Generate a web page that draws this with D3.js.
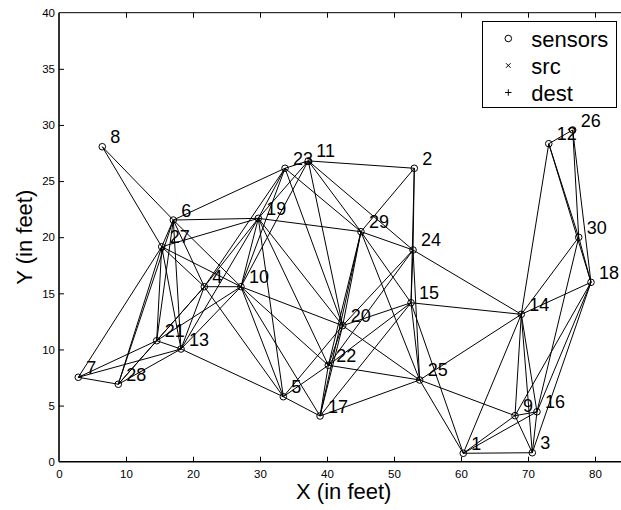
<!DOCTYPE html>
<html><head><meta charset="utf-8">
<script src="https://cdn.jsdelivr.net/npm/d3@7"></script>
<style>
body{margin:0;background:#fff}
text{font-family:"Liberation Sans",Arial,Helvetica,sans-serif;fill:#000}
</style></head>
<body><svg id="c" width="621" height="510"></svg>
<script>
// Sensor nodes: id and position in feet
const ids=[1,2,3,4,5,6,7,8,9,10,11,12,13,14,15,16,17,18,19,20,21,22,23,24,25,26,27,28,29,30];
const xs=[60.34,53.03,70.64,21.69,33.48,17.06,2.88,6.46,68.06,27.16,37.2,73.1,18.21,69.0,52.54,71.34,38.96,79.4,29.75,42.34,14.58,40.2,33.73,52.84,53.83,76.67,15.33,8.85,45.07,77.57];
const ys=[0.75,26.14,0.80,15.59,5.79,21.53,7.52,28.06,4.10,15.59,26.8,28.33,10.04,13.13,14.16,4.45,4.07,15.98,21.68,12.12,10.78,8.59,26.14,18.86,7.28,29.55,19.15,6.9,20.49,19.99];

// Radio links between sensors (pairs of ids)
const links=[
[1,3],[1,9],[1,14],[1,15],[1,16],[1,25],[2,11],[2,15],[2,24],[2,29],
[3,9],[3,14],[3,16],[3,18],[4,5],[4,6],[4,10],[4,13],[4,19],[4,21],
[4,23],[4,27],[4,28],[5,10],[5,13],[5,17],[5,19],[5,20],[5,22],[6,8],
[6,10],[6,13],[6,19],[6,21],[6,23],[6,27],[6,28],[7,13],[7,21],[7,27],
[7,28],[8,27],[9,14],[9,16],[9,18],[9,25],[10,11],[10,13],[10,17],[10,19],
[10,20],[10,21],[10,22],[10,23],[10,27],[11,19],[11,20],[11,23],[11,24],[11,29],
[12,14],[12,18],[12,26],[12,30],[13,19],[13,21],[13,27],[13,28],[14,15],[14,16],
[14,18],[14,24],[14,25],[14,30],[15,17],[15,20],[15,22],[15,24],[15,25],[15,29],
[16,18],[16,30],[17,20],[17,22],[17,25],[17,29],[18,26],[18,30],[19,20],[19,22],
[19,23],[19,27],[19,29],[20,22],[20,23],[20,24],[20,25],[20,29],[21,27],[21,28],
[22,24],[22,25],[22,29],[23,29],[24,25],[24,29],[25,29],[26,30],[27,28]];

// Axis ticks and legend entries
const xTicks=[0,10,20,30,40,50,60,70,80];
const yTicks=[0,5,10,15,20,25,30,35,40];
const legendNames=["sensors","src","dest"];

const svg=d3.select("#c");
const L=59,T=12.7,B=461.7,R=628.5;
const x=d3.scaleLinear().domain([0,85]).range([L,R]);
const y=d3.scaleLinear().domain([0,40]).range([B,T]);

const byId=new Map(ids.map((id,i)=>[id,{x:xs[i],y:ys[i]}]));

// links
svg.append("g").selectAll("line").data(links).join("line")
  .attr("x1",d=>x(byId.get(d[0]).x)).attr("y1",d=>y(byId.get(d[0]).y))
  .attr("x2",d=>x(byId.get(d[1]).x)).attr("y2",d=>y(byId.get(d[1]).y))
  .attr("stroke","#000").attr("stroke-width",1);

// sensor markers
svg.append("g").selectAll("circle").data(ids).join("circle")
  .attr("cx",(d,i)=>x(xs[i])).attr("cy",(d,i)=>y(ys[i])).attr("r",3.3)
  .attr("fill","none").attr("stroke","#000").attr("stroke-width",1);

// sensor labels
svg.append("g").selectAll("text").data(ids).join("text")
  .attr("x",(d,i)=>x(xs[i])+8).attr("y",(d,i)=>y(ys[i])-3.5)
  .attr("font-size",18).text(d=>d);

// axes
const fmt=d3.format("d");
const gx=svg.append("g").attr("transform",`translate(0,${B})`)
  .call(d3.axisBottom(x).tickValues(xTicks).tickFormat(fmt).tickSizeInner(-5).tickSizeOuter(0).tickPadding(8));
const gt=svg.append("g").attr("transform",`translate(0,${T})`)
  .call(d3.axisTop(x).tickValues(xTicks.slice(1)).tickFormat("").tickSizeInner(-5).tickSizeOuter(0));
const gy=svg.append("g").attr("transform",`translate(${L},0)`)
  .call(d3.axisLeft(y).tickValues(yTicks).tickFormat(fmt).tickSizeInner(-5).tickSizeOuter(0).tickPadding(4));
[gx,gt,gy].forEach(g=>{
  g.select(".domain").remove();
  g.selectAll(".tick line").attr("stroke","#000").attr("stroke-width",1);
  g.selectAll("text").attr("font-size",11.5).attr("font-family","Liberation Sans, Arial, sans-serif").attr("fill","#000");
});
gy.selectAll(".tick").filter(d=>d===0||d===40).select("line").remove();
gx.selectAll(".tick").filter(d=>d===0).select("line").remove();

svg.append("line").attr("x1",L).attr("x2",R).attr("y1",T).attr("y2",T).attr("stroke","#000").attr("stroke-width",1);
svg.append("line").attr("x1",L).attr("x2",R).attr("y1",B).attr("y2",B).attr("stroke","#000").attr("stroke-width",1.6);
svg.append("line").attr("x1",L).attr("x2",L).attr("y1",T).attr("y2",B).attr("stroke","#000").attr("stroke-width",1.6);

// axis titles
svg.append("text").attr("x",(L+R)/2).attr("y",499).attr("text-anchor","middle")
  .attr("font-size",22).text("X (in feet)");
svg.append("text").attr("transform",`translate(31.5,${(T+B)/2}) rotate(-90)`)
  .attr("text-anchor","middle").attr("font-size",22).text("Y (in feet)");

// legend
const lg=svg.append("g");
lg.append("rect").attr("x",482.5).attr("y",21.5).attr("width",134).attr("height",86)
  .attr("fill","#fff").attr("stroke","#000").attr("stroke-width",1);
const rows=lg.selectAll("g").data(legendNames).join("g")
  .attr("transform",(d,i)=>`translate(508.3,${38.5+i*27})`);
rows.append("text").attr("x",23).attr("y",8).attr("font-size",22).text(d=>d);
rows.filter((d,i)=>i===0).append("circle").attr("r",3.3).attr("fill","none").attr("stroke","#000");
rows.filter((d,i)=>i===1).append("path").attr("d","M-2.3,-2.3L2.3,2.3M-2.3,2.3L2.3,-2.3").attr("stroke","#000");
rows.filter((d,i)=>i===2).append("path").attr("d","M-3.2,0H3.2M0,-3.2V3.2").attr("stroke","#000");
</script></body></html>
